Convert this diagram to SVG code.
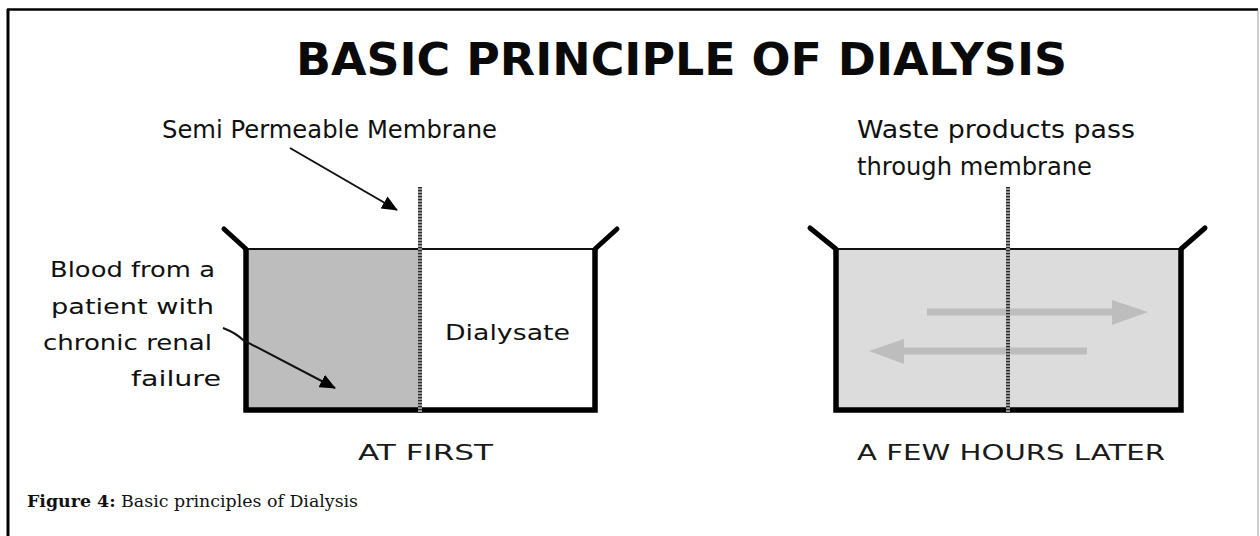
<svg xmlns="http://www.w3.org/2000/svg" width="1260" height="536" viewBox="0 0 1260 536">
  <style>
    .comic { font-family: "DejaVu Sans", "Liberation Sans", sans-serif; fill: #111; }
    .title { font-family: "DejaVu Sans", "Liberation Sans", sans-serif; font-weight: bold; font-size: 44px; fill: #0a0a0a; }
    .cap { font-family: "DejaVu Sans", "Liberation Sans", sans-serif; font-size: 22px; fill: #1a1a1a; }
    .caption { font-family: "DejaVu Serif", "Liberation Serif", serif; font-size: 17.4px; fill: #111; }
    .wall { fill: none; stroke: #000; stroke-width: 5.5; stroke-linejoin: miter; }
    .rim { fill: none; stroke: #111; stroke-width: 2; }
    .flare { fill: none; stroke: #000; stroke-width: 5; stroke-linecap: round; }
    .memb-base { stroke: #a0a0a0; stroke-width: 4; }
    .memb-dots { stroke: #2a2a2a; stroke-width: 4; stroke-dasharray: 1.3 1.7; }
    .pointer { fill: none; stroke: #111; stroke-width: 2; }
    .flow { stroke: #bdbdbd; stroke-width: 7; fill: none; }
    .flowhead { fill: #bdbdbd; }
  </style>
  <defs>
    <marker id="blackhead" viewBox="0 0 16 14" refX="15" refY="7" markerWidth="16" markerHeight="14" markerUnits="userSpaceOnUse" orient="auto">
      <path d="M0 0 L16 7 L0 14 Z" fill="#000"/>
    </marker>
  </defs>

  <!-- frame -->
  <g id="frame">
    <line x1="7" y1="9.5" x2="1258" y2="9.5" stroke="#000" stroke-width="2.5"/>
    <line x1="8" y1="9" x2="8" y2="536" stroke="#000" stroke-width="3"/>
    <line x1="1258" y1="10" x2="1258" y2="536" stroke="#b0b0b0" stroke-width="1.2"/>
  </g>

  <g id="title">
    <text class="title" x="296" y="75" textLength="771" lengthAdjust="spacingAndGlyphs">BASIC PRINCIPLE OF DIALYSIS</text>
  </g>

  <!-- left container: at first -->
  <g id="container-first">
    <rect x="246" y="249" width="174" height="161" fill="#bdbdbd"/>
    <rect x="420" y="249" width="175" height="161" fill="#ffffff"/>
    <line class="rim" x1="246" y1="249" x2="595" y2="249"/>
    <path class="wall" d="M246 249 L246 410 L595 410 L595 249"/>
    <path class="flare" d="M224 229 L246 249"/>
    <path class="flare" d="M617 229 L595 249"/>
    <line class="memb-base" x1="420" y1="187" x2="420" y2="413"/>
    <line class="memb-dots" x1="420" y1="187" x2="420" y2="413"/>
    <text class="comic" x="445" y="340" font-size="22" textLength="125" lengthAdjust="spacingAndGlyphs">Dialysate</text>
  </g>

  <!-- right container: a few hours later -->
  <g id="container-later">
    <rect x="836" y="249" width="345" height="161" fill="#dcdcdc"/>
    <line class="rim" x1="836" y1="249" x2="1181" y2="249"/>
    <path class="wall" d="M836 249 L836 410 L1181 410 L1181 249"/>
    <path class="flare" d="M810 228 L836 249"/>
    <path class="flare" d="M1205 228 L1181 249"/>
    <line class="flow" x1="927" y1="312" x2="1114" y2="312"/>
    <path class="flowhead" d="M1112 300 L1148 312 L1112 325 Z"/>
    <line class="flow" x1="1087" y1="351" x2="902" y2="351"/>
    <path class="flowhead" d="M904 339 L869 351 L904 364 Z"/>
    <line class="memb-base" x1="1008" y1="187" x2="1008" y2="413"/>
    <line class="memb-dots" x1="1008" y1="187" x2="1008" y2="413"/>
  </g>

  <g id="label-membrane">
    <text class="comic" x="162" y="138" font-size="24" textLength="335" lengthAdjust="spacingAndGlyphs">Semi Permeable Membrane</text>
  </g>

  <g id="label-blood">
    <text class="comic" font-size="22" text-anchor="end">
      <tspan x="222" y="277" textLength="165" lengthAdjust="spacingAndGlyphs">Blood from a</tspan>
      <tspan x="221" y="314" textLength="163" lengthAdjust="spacingAndGlyphs">patient with</tspan>
      <tspan x="219" y="350" textLength="169" lengthAdjust="spacingAndGlyphs">chronic renal</tspan>
      <tspan x="221" y="386" textLength="90" lengthAdjust="spacingAndGlyphs">failure</tspan>
    </text>
  </g>

  <g id="label-waste">
    <text class="comic" font-size="24">
      <tspan x="857" y="138" textLength="278" lengthAdjust="spacingAndGlyphs">Waste products pass</tspan>
      <tspan x="857" y="175" textLength="235" lengthAdjust="spacingAndGlyphs">through membrane</tspan>
    </text>
  </g>

  <g id="label-at-first">
    <text class="cap" x="358" y="460" textLength="135" lengthAdjust="spacingAndGlyphs">AT FIRST</text>
  </g>

  <g id="label-later">
    <text class="cap" x="857" y="460" textLength="308" lengthAdjust="spacingAndGlyphs">A FEW HOURS LATER</text>
  </g>

  <g id="connectors">
    <path class="pointer" d="M290 148 L397 210" marker-end="url(#blackhead)"/>
    <path class="pointer" d="M223 328 Q236 333 243 340 L335 388" marker-end="url(#blackhead)"/>
  </g>

  <g id="caption">
    <text class="caption" x="27" y="507"><tspan font-weight="bold">Figure 4:</tspan> Basic principles of Dialysis</text>
  </g>
</svg>
